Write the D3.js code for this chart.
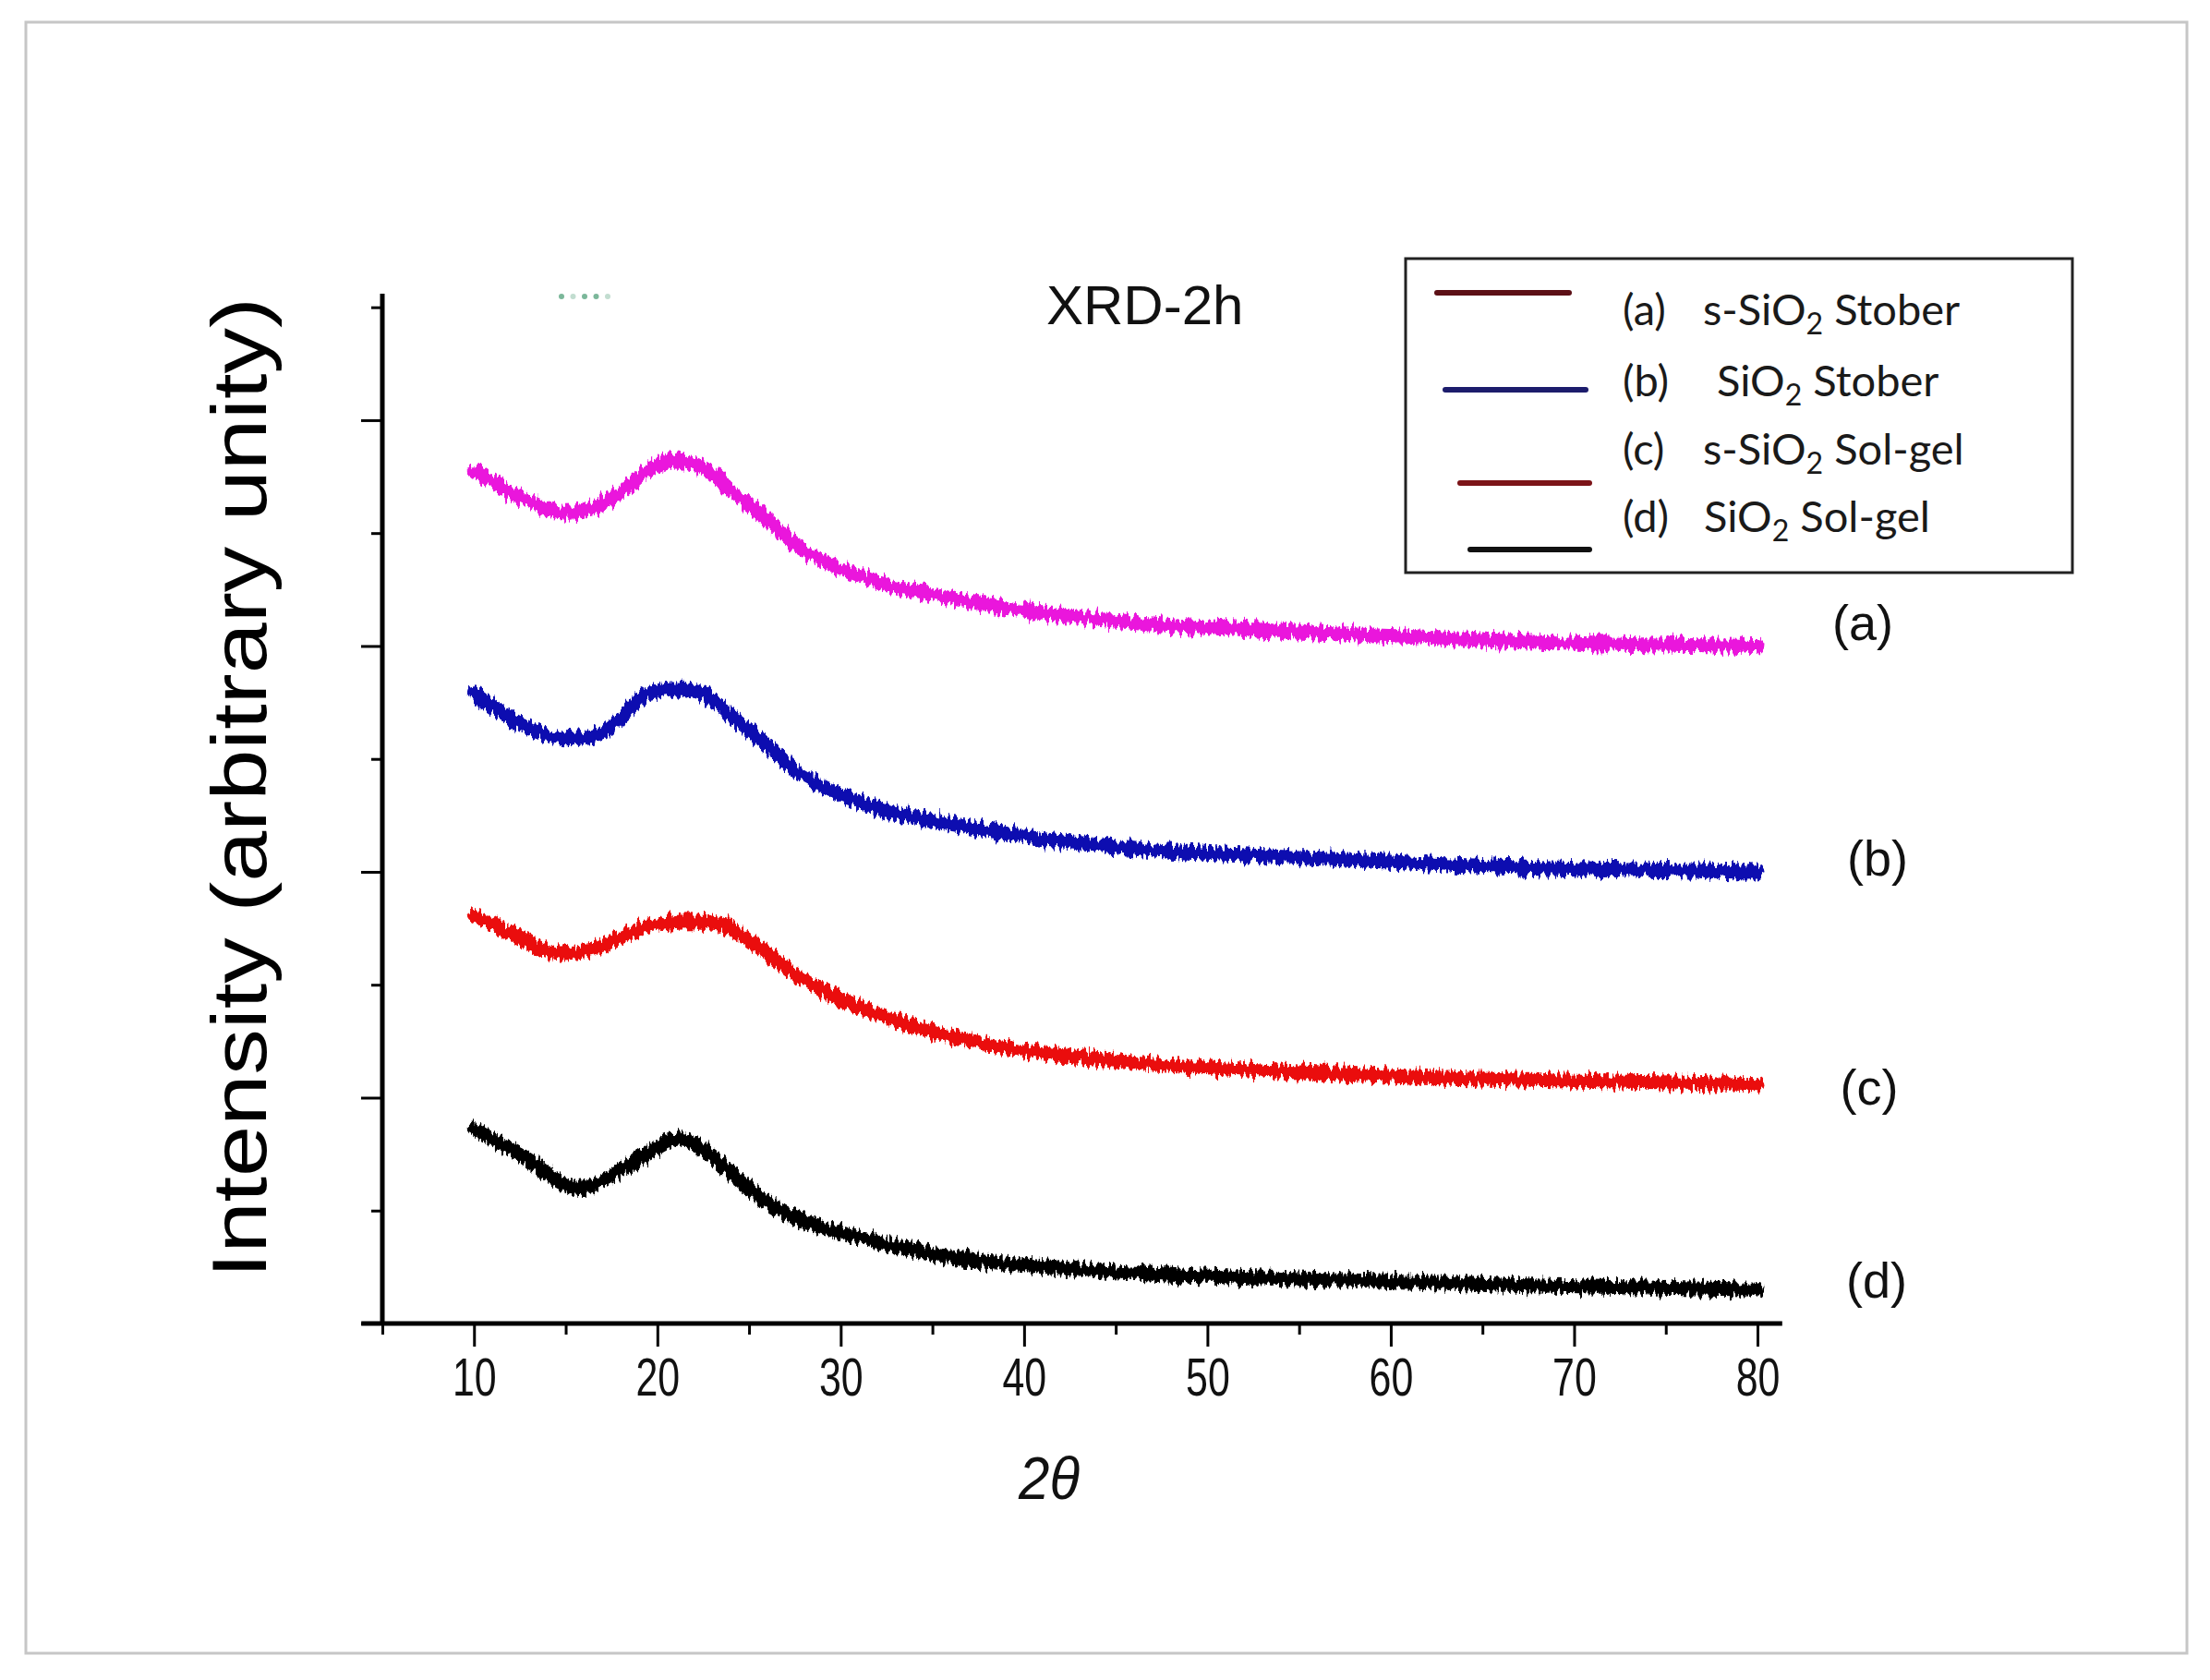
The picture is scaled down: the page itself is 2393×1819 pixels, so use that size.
<!DOCTYPE html>
<meta charset="utf-8">
<html>
<head>
<title>XRD-2h</title>
<style>
  body { margin: 0; background: #fff; }
  svg { display: block; }
  .ticklab { font-family: 'Liberation Sans', Arial, sans-serif; font-size: 58px; fill: #111; }
  .legtxt { font-family: Lato, 'Open Sans', sans-serif; font-size: 47px; fill: #1a1a1a; }
</style>
</head>
<body>
<div id="chart"></div>
<script src="https://d3js.org/d3.v7.min.js"></script>
<script>

// values (intensity in arbitrary, offset units)
var thetaAB = [10, 12, 15, 16.5, 18, 19.5, 21, 22.5, 24, 26, 27.5, 29, 31, 32.5, 34.5, 37.5, 41, 44, 47, 53, 58.5, 67, 80];
var seriesA = [3.78, 3.68, 3.59, 3.61, 3.68, 3.78, 3.82, 3.79, 3.69, 3.56, 3.45, 3.38, 3.31, 3.27, 3.235, 3.19, 3.145, 3.12, 3.095, 3.07, 3.05, 3.02, 3.00];
var seriesB = [2.79, 2.68, 2.59, 2.60, 2.68, 2.79, 2.81, 2.79, 2.69, 2.56, 2.45, 2.38, 2.31, 2.27, 2.235, 2.19, 2.145, 2.12, 2.095, 2.07, 2.05, 2.02, 2.00];
var thetaC  = [10, 12, 14.7, 16.7, 18, 19.6, 21.8, 23.4, 25.1, 26.3, 28.2, 30.8, 34, 37.2, 40.5, 47, 53, 58.5, 67, 80];
var seriesC = [1.81, 1.73, 1.64, 1.66, 1.71, 1.76, 1.78, 1.77, 1.69, 1.62, 1.51, 1.41, 1.315, 1.25, 1.205, 1.15, 1.12, 1.10, 1.08, 1.06];
var thetaD  = [10, 12.5, 15.7, 18, 19.6, 21.3, 22.8, 24.4, 26.3, 28.2, 30.8, 34, 37.2, 40.5, 47, 53, 58.5, 67, 80];
var seriesD = [0.86, 0.75, 0.60, 0.68, 0.76, 0.82, 0.75, 0.64, 0.52, 0.45, 0.385, 0.325, 0.28, 0.255, 0.22, 0.20, 0.19, 0.17, 0.15];

var curveLabels = ["(a)", "(b)", "(c)", "(d)"];
var legendPre  = ["s-SiO", "SiO", "s-SiO", "SiO"];
var legendPost = [" Stober", " Stober", " Sol-gel", " Sol-gel"];
var xTicks = [10, 20, 30, 40, 50, 60, 70, 80];
var xMinor = [5, 15, 25, 35, 45, 55, 65, 75];
var yMajor = [0, 1, 2, 3, 4];
var yMinor = [0.5, 1.5, 2.5, 3.5, 4.5];

var curveColors = ["#ea12dc", "#0c0cb0", "#ea0c0c", "#050505"];
var legendColors = ["#5c1016", "#1c1c6c", "#7c1418", "#111111"];

var width = 2393, height = 1819;

var svg = d3.select("#chart").append("svg")
    .attr("width", width)
    .attr("height", height);

// jitter filter to get the noisy look of the measured scans
var defs = svg.append("defs");
var filt = defs.append("filter")
    .attr("id", "jitter")
    .attr("filterUnits", "userSpaceOnUse")
    .attr("x", 0).attr("y", 0).attr("width", width).attr("height", height);
filt.append("feTurbulence")
    .attr("type", "fractalNoise")
    .attr("baseFrequency", "0.3 0.05")
    .attr("numOctaves", 2)
    .attr("seed", 7)
    .attr("result", "noise");
filt.append("feColorMatrix")
    .attr("in", "noise")
    .attr("type", "matrix")
    .attr("values", "0 0 0 0 0.5  0 1 0 0 0  0 0 0 0 0  0 0 0 0 1")
    .attr("result", "disp");
filt.append("feDisplacementMap")
    .attr("in", "SourceGraphic")
    .attr("in2", "disp")
    .attr("scale", 18)
    .attr("xChannelSelector", "R")
    .attr("yChannelSelector", "G");

// outer frame
svg.append("rect")
    .attr("x", 28).attr("y", 24)
    .attr("width", 2340).attr("height", 1766)
    .style("fill", "none")
    .style("stroke", "#c6c6c6")
    .style("stroke-width", 3);

var x = d3.scaleLinear().domain([5, 80]).range([414, 1903]);
var y = d3.scaleLinear().domain([0, 4.56]).range([1433, 318]);

// x axis
var xAxis = d3.axisBottom(x).tickValues(xTicks).tickSize(25).tickPadding(0).tickSizeOuter(0);
var gx = svg.append("g").attr("transform", "translate(0," + y(0) + ")").call(xAxis);
gx.select(".domain").remove();
gx.selectAll(".tick line").style("stroke", "#000").style("stroke-width", 3);
gx.selectAll(".tick text")
    .attr("class", "ticklab")
    .attr("y", 78).attr("dy", null)
    .attr("transform", "scale(0.74,1)")
    .style("font-size", null).style("font-family", null);
var xAxisMinor = d3.axisBottom(x).tickValues(xMinor).tickSize(12).tickFormat("").tickSizeOuter(0);
var gxm = svg.append("g").attr("transform", "translate(0," + y(0) + ")").call(xAxisMinor);
gxm.select(".domain").remove();
gxm.selectAll(".tick line").style("stroke", "#000").style("stroke-width", 3);
svg.append("line")
    .attr("x1", x(3.85)).attr("x2", x(81.35))
    .attr("y1", y(0)).attr("y2", y(0))
    .style("stroke", "#000").style("stroke-width", 5);

// y axis, no labels
var yAxis = d3.axisLeft(y).tickValues(yMajor).tickSize(23).tickFormat("").tickSizeOuter(0);
var gy = svg.append("g").attr("transform", "translate(" + x(5) + ",0)").call(yAxis);
gy.select(".domain").remove();
gy.selectAll(".tick line").style("stroke", "#000").style("stroke-width", 3);
var yAxisMinor = d3.axisLeft(y).tickValues(yMinor).tickSize(12).tickFormat("").tickSizeOuter(0);
var gym = svg.append("g").attr("transform", "translate(" + x(5) + ",0)").call(yAxisMinor);
gym.select(".domain").remove();
gym.selectAll(".tick line").style("stroke", "#000").style("stroke-width", 3);
svg.append("line")
    .attr("x1", x(5)).attr("x2", x(5))
    .attr("y1", y(0)).attr("y2", y(4.56))
    .style("stroke", "#000").style("stroke-width", 5);

// axis titles
svg.append("text")
    .attr("x", 1136).attr("y", 1623)
    .attr("text-anchor", "middle")
    .attr("textLength", 66).attr("lengthAdjust", "spacingAndGlyphs")
    .style("font-family", "'Liberation Sans', Arial, sans-serif")
    .style("font-style", "italic")
    .style("font-size", "64px")
    .style("fill", "#111")
    .text("2\u03b8");

svg.append("text")
    .attr("transform", "translate(288,853) rotate(-90)")
    .attr("text-anchor", "middle")
    .attr("textLength", 1062).attr("lengthAdjust", "spacingAndGlyphs")
    .style("font-family", "'Liberation Sans', Arial, sans-serif")
    .style("font-size", "84px")
    .style("fill", "#000")
    .text("Intensity (arbitrary unity)");

svg.append("text")
    .attr("x", 1133).attr("y", 351)
    .style("font-family", "'Liberation Sans', Arial, sans-serif")
    .style("font-size", "60px")
    .style("fill", "#111")
    .text("XRD-2h");

// faint green dots near the top of the axis
svg.selectAll(".gdot")
    .data([0, 1, 2, 3, 4]).enter()
    .append("circle")
    .attr("cx", function (d) { return 608 + d * 12.5; })
    .attr("cy", 321)
    .attr("r", 3)
    .style("fill", "#4f9f78")
    .style("opacity", function (d) { return d == 1 || d == 4 ? 0.35 : 0.75; });

// curves
var allTheta = [thetaAB, thetaAB, thetaC, thetaD];
var allSeries = [seriesA, seriesB, seriesC, seriesD];
var line = d3.line()
    .x(function (d) { return x(d[0]); })
    .y(function (d) { return y(d[1]); })
    .curve(d3.curveMonotoneX);

allSeries.forEach(function (s, i) {
  var pts = s.map(function (v, k) { return [allTheta[i][k], v]; });
  svg.append("path")
      .datum(pts)
      .attr("d", line)
      .attr("filter", "url(#jitter)")
      .style("fill", "none")
      .style("stroke", curveColors[i])
      .style("stroke-width", 15)
      .style("stroke-linecap", "round")
      .style("stroke-linejoin", "round");
});

// labels at the right end of each curve
var rightLab = [[2017, 693], [2033, 948], [2024, 1196], [2032, 1405]];
svg.selectAll(".rlab")
    .data(curveLabels).enter()
    .append("text")
    .attr("x", function (d, i) { return rightLab[i][0]; })
    .attr("y", function (d, i) { return rightLab[i][1]; })
    .attr("text-anchor", "middle")
    .style("font-family", "'Liberation Sans', Arial, sans-serif")
    .style("font-size", "54px")
    .style("fill", "#111")
    .text(function (d) { return d; });

// legend
svg.append("rect")
    .attr("x", 1522).attr("y", 280)
    .attr("width", 722).attr("height", 340)
    .style("fill", "#fff")
    .style("stroke", "#222")
    .style("stroke-width", 3);

var legLines = [[1556, 1699, 317], [1565, 1717, 422], [1581, 1721, 523], [1592, 1721, 595]];
var legBase = [352, 429, 503, 576];
var legTextX = [1844, 1859, 1844, 1845];

svg.selectAll(".legline")
    .data(curveLabels).enter()
    .append("line")
    .attr("x1", function (d, i) { return legLines[i][0]; })
    .attr("x2", function (d, i) { return legLines[i][1]; })
    .attr("y1", function (d, i) { return legLines[i][2]; })
    .attr("y2", function (d, i) { return legLines[i][2]; })
    .style("stroke", function (d, i) { return legendColors[i]; })
    .style("stroke-width", 6)
    .style("stroke-linecap", "round");

curveLabels.forEach(function (lab, i) {
  svg.append("text")
      .attr("class", "legtxt")
      .attr("x", 1757).attr("y", legBase[i])
      .text(lab);
  var t = svg.append("text")
      .attr("class", "legtxt")
      .attr("x", legTextX[i]).attr("y", legBase[i]);
  t.append("tspan").text(legendPre[i]);
  t.append("tspan").attr("dy", 10).style("font-size", "32px").text("2");
  t.append("tspan").attr("dy", -10).text(legendPost[i]);
});

</script>
</body>
</html>
